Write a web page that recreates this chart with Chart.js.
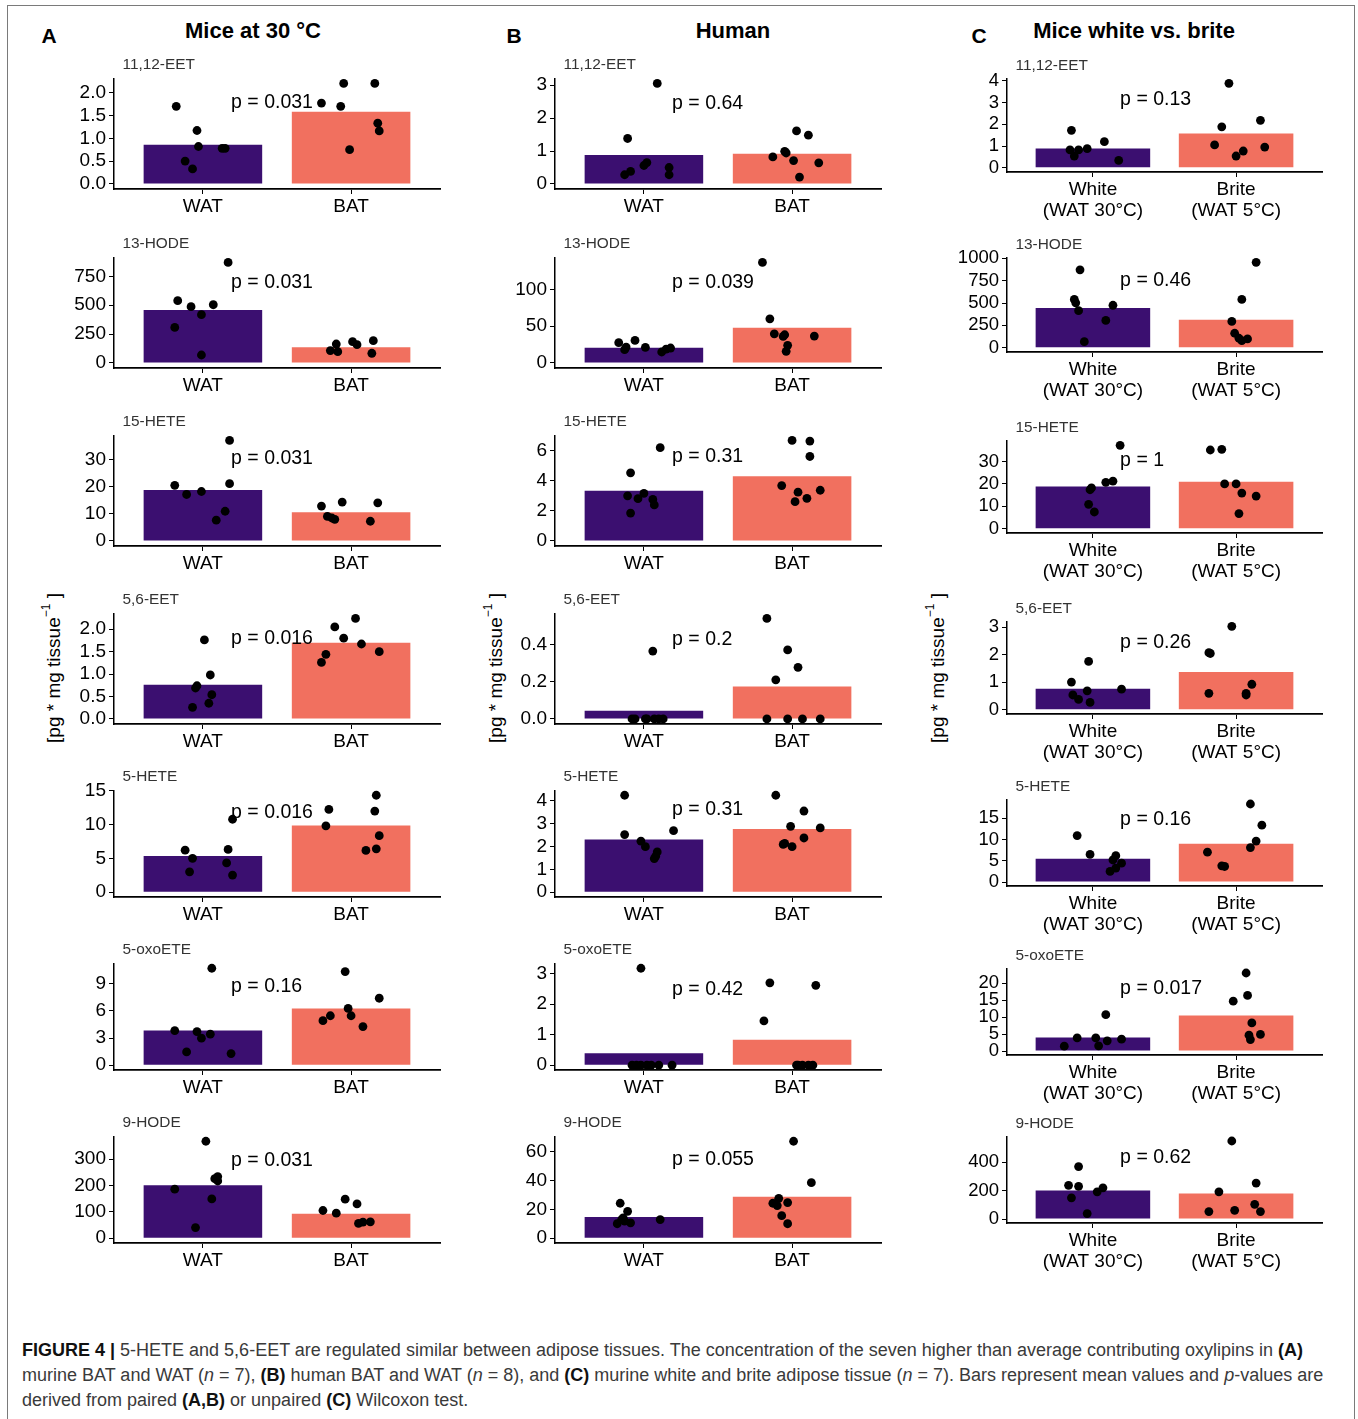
<!DOCTYPE html>
<html>
<head>
<meta charset="utf-8">
<title>Figure 4 - oxylipins in adipose tissues</title>
<script src="https://cdn.jsdelivr.net/npm/chart.js@4.4.0/dist/chart.umd.min.js"></script>
<style>
  body { margin: 0; background: #fff; font-family: "Liberation Sans", Arial, Helvetica, sans-serif; }
  #fig { position: relative; width: 1358px; height: 1419px; overflow: hidden; background: #fff; }
  #frame { position: absolute; left: 7px; top: 5px; width: 1346px; height: 1430px; border: 1.5px solid #7a7a7a; }
  .coltitle { position: absolute; font-weight: bold; font-size: 22px; color: #000; transform: translate(-50%, -50%); white-space: nowrap; }
  .letter { position: absolute; font-weight: bold; font-size: 21px; color: #000; transform: translate(-50%, -50%); }
  .sub { position: absolute; font-size: 15.4px; color: #333; transform: translateY(-50%); white-space: nowrap; }
  .ylab { position: absolute; font-size: 19px; color: #000; white-space: nowrap; transform: translate(-50%, -50%) rotate(-90deg); }
  .ylab sup { font-size: 12px; position: relative; top: -2px; }
  #caption { position: absolute; left: 22px; top: 1338px; font-size: 18px; line-height: 25px; color: #3a3a3a; white-space: nowrap; }
  #caption b { color: #111; }
</style>
</head>
<body>
<div id="fig">
  <div id="frame"></div>
  <div class="letter" style="left:49px;top:36px">A</div>
  <div class="letter" style="left:514px;top:36px">B</div>
  <div class="letter" style="left:979px;top:36px">C</div>
  <div id="caption">
    <div><b>FIGURE 4 |</b> 5-HETE and 5,6-EET are regulated similar between adipose tissues. The concentration of the seven higher than average contributing oxylipins in <b>(A)</b></div>
    <div>murine BAT and WAT (<i>n</i> = 7), <b>(B)</b> human BAT and WAT (<i>n</i> = 8), and <b>(C)</b> murine white and brite adipose tissue (<i>n</i> = 7). Bars represent mean values and <i>p</i>-values are</div>
    <div>derived from paired <b>(A,B)</b> or unpaired <b>(C)</b> Wilcoxon test.</div>
  </div>
</div>
<script>
// ------------------------
// DATA
// ------------------------
const columnTitles = ['Mice at 30 °C', 'Human', 'Mice white vs. brite'];
const lipids = ['11,12-EET', '13-HODE', '15-HETE', '5,6-EET', '5-HETE', '5-oxoETE', '9-HODE'];
const groupLabelsAB = ['WAT', 'BAT'];
const groupLabelsC = [['White', '(WAT 30°C)'], ['Brite', '(WAT 5°C)']];

// A: mice at 30 °C, n = 7
const watValsA = [
  [1.70, 1.17, 0.82, 0.50, 0.33, 0.78, 0.78],
  [539, 487, 504, 418, 308, 69, 870],
  [20.6, 17.2, 18.3, 37.2, 21.2, 11.0, 7.7],
  [1.76, 0.98, 0.74, 0.69, 0.54, 0.35, 0.26],
  [6.23, 5.02, 3.02, 6.33, 4.34, 2.53, 10.81],
  [3.83, 3.72, 2.99, 3.43, 1.46, 1.28, 10.73],
  [368, 186, 226, 234, 217, 149, 40]
];
const watJitA = [
  [-0.18, -0.04, -0.03, -0.12, -0.07, 0.13, 0.15],
  [-0.17, -0.08, 0.07, -0.01, -0.19, -0.01, 0.17],
  [-0.19, -0.11, -0.01, 0.18, 0.18, 0.15, 0.09],
  [0.01, 0.05, -0.04, -0.05, 0.06, 0.04, -0.07],
  [-0.12, -0.07, -0.09, 0.17, 0.16, 0.20, 0.20],
  [-0.19, -0.04, -0.01, 0.05, -0.11, 0.19, 0.06],
  [0.02, -0.19, 0.08, 0.10, 0.10, 0.06, -0.05]
];
const batValsA = [
  [1.77, 2.20, 1.70, 2.20, 1.33, 1.16, 0.75],
  [107, 164, 98, 184, 158, 193, 84],
  [12.9, 14.4, 9.1, 8.0, 14.1, 7.3, 8.5],
  [2.05, 2.24, 1.80, 1.67, 1.50, 1.44, 1.26],
  [12.27, 9.84, 14.37, 12.03, 8.38, 6.19, 6.43],
  [10.36, 7.41, 6.28, 5.47, 4.93, 5.47, 4.27],
  [105, 95, 148, 130, 56, 61, 62]
];
const batJitA = [
  [-0.20, -0.05, -0.07, 0.16, 0.18, 0.19, -0.01],
  [-0.14, -0.10, -0.09, 0.01, 0.04, 0.15, 0.14],
  [-0.20, -0.06, -0.16, -0.11, 0.18, 0.13, -0.13],
  [-0.11, 0.03, -0.05, 0.07, 0.19, -0.17, -0.20],
  [-0.15, -0.17, 0.17, 0.16, 0.19, 0.10, 0.17],
  [-0.04, 0.19, -0.02, -0.14, -0.19, 0.00, 0.08],
  [-0.19, -0.10, -0.04, 0.04, 0.05, 0.08, 0.13]
];
const barsA = [[0.86, 1.58], [458, 135], [18.9, 10.6], [0.76, 1.70], [5.36, 9.89], [3.83, 6.28], [201, 93]];
const pTextA = ['p = 0.031', 'p = 0.031', 'p = 0.031', 'p = 0.016', 'p = 0.016', 'p = 0.16', 'p = 0.031'];
const pYA = [1.78, 697, 30.6, 1.79, 11.8, 8.65, 296];
const yTicksA = [
  ['0.0', '0.5', '1.0', '1.5', '2.0'], ['0', '250', '500', '750'], ['0', '10', '20', '30'],
  ['0.0', '0.5', '1.0', '1.5', '2.0'], ['0', '5', '10', '15'], ['0', '3', '6', '9'], ['0', '100', '200', '300']
];

// B: human, n = 8
const watValsB = [
  [3.05, 1.38, 0.28, 0.38, 0.56, 0.65, 0.50, 0.28],
  [27.5, 18.0, 30.6, 21.2, 14.9, 18.9, 20.3, 21.6],
  [6.22, 4.54, 3.01, 2.82, 3.17, 2.77, 2.40, 1.86],
  [0.364, 0, 0, 0, 0, 0, 0, 0],
  [4.24, 2.52, 2.23, 1.99, 1.76, 1.58, 1.47, 2.69],
  [3.18, 0, 0, 0, 0, 0, 0, 0],
  [24.2, 18.6, 14.0, 10.0, 12.9, 10.6, 12.9, 11.8]
];
const watJitB = [
  [0.09, -0.11, -0.13, -0.09, 0.00, 0.02, 0.17, 0.17],
  [-0.17, -0.13, -0.06, 0.01, 0.12, 0.15, 0.18, -0.12],
  [0.11, -0.09, -0.11, -0.04, 0.00, 0.06, 0.07, -0.09],
  [0.06, -0.08, -0.06, 0.01, 0.02, 0.07, 0.10, 0.13],
  [-0.13, -0.13, -0.02, 0.01, 0.09, 0.08, 0.07, 0.20],
  [-0.02, -0.08, -0.02, 0.02, 0.10, 0.19, -0.05, 0.05],
  [-0.16, -0.11, -0.14, -0.18, -0.15, -0.09, 0.11, -0.13]
];
const batValsB = [
  [1.61, 1.48, 0.82, 0.99, 0.71, 0.64, 0.21, 0.94],
  [136.5, 59.9, 39.6, 38.3, 23.9, 15.8, 36.5, 36.0],
  [6.70, 6.66, 5.63, 3.69, 3.25, 3.38, 2.62, 2.84],
  [0.539, 0.370, 0.277, 0.210, 0, 0, 0, 0],
  [4.24, 3.55, 2.88, 2.81, 2.37, 2.13, 1.99, 2.09],
  [2.70, 2.62, 1.45, 0, 0, 0, 0, 0],
  [67.2, 38.5, 27.6, 24.2, 24.7, 22.6, 15.6, 10.0]
];
const batJitB = [
  [0.03, 0.11, -0.13, -0.05, 0.01, 0.18, 0.05, -0.04],
  [-0.20, -0.15, -0.12, -0.05, -0.03, -0.04, 0.15, -0.06],
  [0.00, 0.12, 0.12, -0.07, 0.04, 0.19, 0.02, 0.10],
  [-0.17, -0.03, 0.04, -0.11, -0.17, -0.03, 0.07, 0.19],
  [-0.11, 0.08, -0.01, 0.19, 0.08, -0.05, 0.00, -0.06],
  [-0.15, 0.16, -0.19, 0.04, 0.07, 0.11, 0.14, 0.03],
  [0.01, 0.13, -0.09, -0.13, -0.03, -0.10, -0.07, -0.03]
];
const barsB = [[0.88, 0.92], [20.7, 47.7], [3.34, 4.32], [0.044, 0.174], [2.30, 2.76], [0.39, 0.83], [14.7, 28.7]];
const pTextB = ['p = 0.64', 'p = 0.039', 'p = 0.31', 'p = 0.2', 'p = 0.31', 'p = 0.42', 'p = 0.055'];
const pYB = [2.43, 109.5, 5.63, 0.423, 3.63, 2.49, 54.8];
const yTicksB = [
  ['0', '1', '2', '3'], ['0', '50', '100'], ['0', '2', '4', '6'], ['0.0', '0.2', '0.4'],
  ['0', '1', '2', '3', '4'], ['0', '1', '2', '3'], ['0', '20', '40', '60']
];

// C: mice white vs. brite, n = 7
const watValsC = [
  [1.72, 0.82, 0.82, 0.54, 0.88, 1.20, 0.34],
  [872, 540, 502, 415, 475, 306, 68],
  [37.2, 17.4, 18.2, 20.7, 21.2, 10.9, 7.5],
  [1.76, 1.01, 0.69, 0.54, 0.38, 0.27, 0.75],
  [10.94, 6.50, 6.20, 5.20, 4.44, 3.29, 2.52],
  [10.73, 1.46, 3.90, 3.90, 1.56, 3.02, 3.51],
  [370, 238, 231, 150, 192, 220, 39]
];
const watJitC = [
  [-0.15, -0.16, -0.10, -0.13, -0.04, 0.08, 0.18],
  [-0.09, -0.13, -0.12, -0.10, 0.14, 0.09, -0.06],
  [0.19, -0.02, -0.01, 0.09, 0.14, -0.03, 0.01],
  [-0.03, -0.15, -0.04, -0.14, -0.10, -0.02, 0.20],
  [-0.11, -0.02, 0.16, 0.14, 0.20, 0.16, 0.12],
  [0.09, -0.20, -0.11, 0.02, 0.04, 0.10, 0.20],
  [-0.10, -0.17, -0.10, -0.15, 0.03, 0.07, -0.04]
];
const batValsC = [
  [3.88, 1.88, 2.18, 1.05, 0.54, 0.77, 0.95],
  [955, 540, 294, 162, 106, 79, 98],
  [35.1, 35.4, 20.0, 20.0, 15.9, 14.6, 6.8],
  [3.04, 2.08, 2.05, 0.60, 0.93, 0.54, 0.60],
  [18.36, 13.39, 9.64, 8.11, 7.04, 3.83, 3.67],
  [23.0, 16.4, 14.7, 8.3, 4.7, 4.9, 3.4],
  [550, 254, 192, 104, 53, 62, 53]
];
const batJitC = [
  [-0.05, -0.10, 0.17, -0.15, 0.00, 0.05, 0.20],
  [0.14, 0.04, -0.03, -0.01, 0.02, 0.04, 0.08],
  [-0.18, -0.10, -0.08, 0.00, 0.04, 0.14, 0.02],
  [-0.03, -0.19, -0.18, -0.19, 0.11, 0.07, 0.07],
  [0.10, 0.18, 0.14, 0.10, -0.20, -0.10, -0.08],
  [0.07, 0.08, -0.02, 0.11, 0.09, 0.17, 0.10],
  [-0.03, 0.14, -0.12, 0.13, -0.19, -0.01, 0.17]
];
const barsC = [[0.88, 1.58], [445, 313], [18.8, 21.0], [0.77, 1.38], [5.51, 9.03], [4.0, 10.5], [201, 180]];
const pTextC = ['p = 0.13', 'p = 0.46', 'p = 1', 'p = 0.26', 'p = 0.16', 'p = 0.017', 'p = 0.62'];
const pYC = [3.11, 755, 30.3, 2.44, 14.77, 18.3, 435];
const yTicksC = [
  ['0', '1', '2', '3', '4'], ['0', '250', '500', '750', '1000'], ['0', '10', '20', '30'], ['0', '1', '2', '3'],
  ['0', '5', '10', '15'], ['0', '5', '10', '15', '20'], ['0', '200', '400']
];

// ------------------------
// LAYOUT (pixels on the page)
// ------------------------
const plotLeft = [114, 555, 1007];
const plotRight = [440, 881, 1322];
const plotTopAB = [78, 257, 435, 613, 790, 963, 1136];
const plotBottomAB = [189, 368, 546, 724, 897, 1070, 1243];
const plotTopC = [79, 258, 441, 622, 800, 969, 1137];
const plotBottomC = [172, 352, 533, 714, 886, 1055, 1223];
const titleX = [253, 733, 1134];
const ylabX = [53, 495, 937];

const purple = '#3B0F70';
const salmon = '#F1705F';
const FONT = '"Liberation Sans", Arial, Helvetica, sans-serif';
Chart.defaults.font.family = FONT;

const watVals = [watValsA, watValsB, watValsC];
const watJit = [watJitA, watJitB, watJitC];
const batVals = [batValsA, batValsB, batValsC];
const batJit = [batJitA, batJitB, batJitC];
const bars = [barsA, barsB, barsC];
const pTexts = [pTextA, pTextB, pTextC];
const pYs = [pYA, pYB, pYC];
const yTicks = [yTicksA, yTicksB, yTicksC];

const fig = document.getElementById('fig');

// p-value text, placed in data coordinates
const pLabelPlugin = {
  id: 'pLabel',
  afterDatasetsDraw(chart, args, opts) {
    const ctx = chart.ctx;
    ctx.save();
    ctx.font = opts.size + 'px ' + FONT;
    ctx.fillStyle = '#000';
    ctx.textAlign = 'left';
    ctx.textBaseline = 'middle';
    ctx.fillText(opts.text, chart.scales.x.getPixelForValue(opts.x), chart.scales.y.getPixelForValue(opts.y));
    ctx.restore();
  }
};

function panelConfig(col, k) {
  const wv = watVals[col][k], wj = watJit[col][k];
  const bv = batVals[col][k], bj = batJit[col][k];
  const ymax = Math.max(...wv, ...bv);
  const ticks = yTicks[col][k];
  const groups = col === 2 ? groupLabelsC : groupLabelsAB;
  const pts = wv.map((v, i) => ({ x: 1 + wj[i], y: v }))
    .concat(bv.map((v, i) => ({ x: 2 + bj[i], y: v })));

  return {
    type: 'bar',
    data: {
      datasets: [
        {
          type: 'bar',
          data: [{ x: 1, y: bars[col][k][0] }, { x: 2, y: bars[col][k][1] }],
          backgroundColor: [purple, salmon],
          borderWidth: 0,
          barPercentage: 0.8,
          categoryPercentage: 1,
          order: 2
        },
        {
          type: 'scatter',
          data: pts,
          backgroundColor: '#000',
          borderWidth: 0,
          pointRadius: 4.4,
          pointHoverRadius: 4.4,
          clip: false,
          order: 1
        }
      ]
    },
    options: {
      responsive: false,
      maintainAspectRatio: false,
      animation: false,
      events: [],
      layout: { padding: { top: 14, right: 14, left: 0, bottom: 0 } },
      plugins: {
        legend: { display: false },
        tooltip: { enabled: false },
        pLabel: { text: pTexts[col][k], x: 1.19, y: pYs[col][k], size: 19.5 }
      },
      scales: {
        x: {
          type: 'linear',
          min: 0.4,
          max: 2.6,
          offset: false,
          afterBuildTicks: s => { s.ticks = [{ value: 1 }, { value: 2 }]; },
          afterFit: s => { s.height = col === 2 ? 64 : 40; },
          ticks: {
            callback: (v, i) => groups[i],
            font: { size: 19, lineHeight: 1.1 },
            color: '#000',
            padding: 2,
            maxRotation: 0,
            autoSkip: false
          },
          grid: { offset: false, drawOnChartArea: false, drawTicks: true, tickLength: 5, color: '#000', lineWidth: 1 },
          border: { display: true, color: '#000', width: 1.8 }
        },
        y: {
          type: 'linear',
          min: -0.05 * ymax,
          max: 1.05 * ymax,
          afterBuildTicks: s => { s.ticks = ticks.map(t => ({ value: parseFloat(t) })); },
          afterFit: s => { s.width = 80; },
          ticks: {
            callback: (v, i) => ticks[i],
            font: { size: col === 2 ? 18.5 : 19 },
            color: '#000',
            padding: 3,
            autoSkip: false
          },
          grid: { drawOnChartArea: false, drawTicks: true, tickLength: 5, color: '#000', lineWidth: 1 },
          border: { display: true, color: '#000', width: 1.5 }
        }
      }
    },
    plugins: [pLabelPlugin]
  };
}

function makeChart(w, h, col, k) {
  const cv = document.createElement('canvas');
  cv.width = w;
  cv.height = h;
  cv.style.position = 'absolute';
  cv.style.width = w + 'px';
  cv.style.height = h + 'px';
  fig.appendChild(cv);
  return { canvas: cv, chart: new Chart(cv, panelConfig(col, k)) };
}

// build once to measure the margins, then rebuild so the plot area lands on the target box
function drawPanel(col, k) {
  const L = plotLeft[col], R = plotRight[col];
  const T = (col === 2 ? plotTopC : plotTopAB)[k];
  const B = (col === 2 ? plotBottomC : plotBottomAB)[k];
  const gw = R - L + 120, gh = B - T + 120;
  const probe = makeChart(gw, gh, col, k);
  const a = probe.chart.chartArea;
  const w = Math.round(gw + (R - L) - (a.right - a.left));
  const h = Math.round(gh + (B - T) - (a.bottom - a.top));
  probe.chart.destroy();
  probe.canvas.remove();

  const fin = makeChart(w, h, col, k);
  const b = fin.chart.chartArea;
  fin.canvas.style.left = Math.round(L - b.left) + 'px';
  fin.canvas.style.top = Math.round(T - b.top) + 'px';

  const sub = document.createElement('div');
  sub.className = 'sub';
  sub.textContent = lipids[k];
  sub.style.left = (L + 8.5) + 'px';
  sub.style.top = (T - 14) + 'px';
  fig.appendChild(sub);
}

for (let col = 0; col < 3; col++) {
  const t = document.createElement('div');
  t.className = 'coltitle';
  t.textContent = columnTitles[col];
  t.style.left = titleX[col] + 'px';
  t.style.top = '31px';
  fig.appendChild(t);

  const yl = document.createElement('div');
  yl.className = 'ylab';
  yl.innerHTML = '[pg * mg tissue<sup>−1</sup> ]';
  yl.style.left = ylabX[col] + 'px';
  yl.style.top = '668px';
  fig.appendChild(yl);

  for (let k = 0; k < lipids.length; k++) drawPanel(col, k);
}
</script>
</body>
</html>
